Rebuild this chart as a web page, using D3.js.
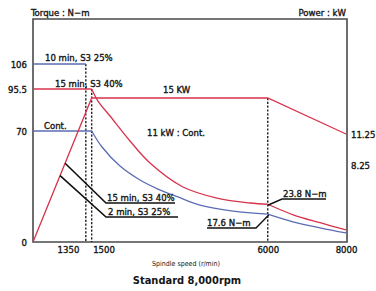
<!DOCTYPE html>
<html><head><meta charset="utf-8">
<script src="https://cdn.jsdelivr.net/npm/d3@7"></script>
<style>
html,body{margin:0;padding:0;background:#fff;}
svg{display:block;}
text{font-family:"Liberation Sans Narrow","DejaVu Sans Condensed",sans-serif;fill:#151515;}
.lbl{stroke:#151515;stroke-width:0.35px;}
</style></head>
<body><div id="chart"></div>
<script>
// ---- data ----
const speedTicks = [1350, 1500, 6000, 8000];
const torqueTicks = [0, 70, 95.5, 106];
const powerTicks = [11.25, 8.25];

const powerRpm = [0, 1500, 6000, 8000];
const powerKw  = [0, 15, 15, 11.25];

const s3ShortRpm = [0, 1350];
const s3ShortNm  = [106, 106];

const s3FlatRpm = [0, 1500];
const s3FlatNm  = [95.5, 95.5];
const s3CurveRpm = [1500, 1661, 1968, 2479, 2990, 3834, 4703, 5546, 6000];
const s3CurveNm  = [95.5, 88.2, 79.1, 63.7, 49.8, 34.7, 27.7, 24.6, 23.8];
const s3TailRpm = [6000, 6667, 7359, 8000];
const s3TailNm  = [23.8, 17.0, 12.0, 7.6];

const contFlatRpm = [0, 1500];
const contFlatNm  = [70, 70];
const contCurveRpm = [1500, 1764, 2224, 2735, 3195, 3706, 4268, 5112, 6000];
const contCurveNm  = [70, 59.9, 47.9, 39.1, 33.4, 28.4, 23.3, 19.5, 17.6];
const contTailRpm = [6000, 6667, 7359, 8000];
const contTailNm  = [17.6, 12.6, 8.8, 5.7];

const dashedRpm = [1350, 1500, 6000];
const leaderRpm = [820, 692];

const RED = "#d8334c", BLUE = "#5a6cb3";

// ---- layout ----
const W = 376, H = 291;
const svg = d3.select("#chart").append("svg").attr("width", W).attr("height", H);

const x = d3.scaleLinear().domain([0, 8000]).range([33, 346]);
const yT = d3.scaleLinear().domain([0, 70, 95.5, 106]).range([242, 131, 89, 64]);
const yP = d3.scaleLinear().domain([0, 15]).range([242, 98]);
const frameTop = 19;

// frame
svg.append("path")
  .attr("d", `M${x(0)},${frameTop}H${x(8000)+1}V${yT(0)}H${x(0)}Z`)
  .attr("fill", "none").attr("stroke", "#4a4a4a").attr("stroke-width", 1.6);

// dashed verticals
const dashTop = {1350: yT(106), 1500: yT(95.5), 6000: yP(15)};
svg.selectAll(".dash").data(dashedRpm).join("line")
  .attr("x1", d => x(d)).attr("x2", d => x(d))
  .attr("y1", d => dashTop[d]).attr("y2", yT(0))
  .attr("stroke", "#222").attr("stroke-width", 1.4).attr("stroke-dasharray", "2.2,1.6");

const lineT = (rpm, nm, curve) => d3.line().x(i => x(rpm[i])).y(i => yT(nm[i])).curve(curve || d3.curveLinear)(d3.range(rpm.length));
const smooth = d3.curveCatmullRom.alpha(0.5);

function draw(d, color) {
  svg.append("path").attr("d", d).attr("fill", "none").attr("stroke", color).attr("stroke-width", 1.3);
}
// blue torque
draw(lineT(s3ShortRpm, s3ShortNm), BLUE);
draw(lineT(contFlatRpm, contFlatNm), BLUE);
draw(lineT(contCurveRpm, contCurveNm, smooth), BLUE);
draw(lineT(contTailRpm, contTailNm, smooth), BLUE);
// red torque
draw(lineT(s3FlatRpm, s3FlatNm), RED);
draw(lineT(s3CurveRpm, s3CurveNm, smooth), RED);
draw(lineT(s3TailRpm, s3TailNm, smooth), RED);
// power
draw(d3.line().x(i => x(powerRpm[i])).y(i => yP(powerKw[i]))(d3.range(powerRpm.length)), RED);

// axes
const fs = "9.5px";
const ax = svg.append("g").attr("transform", `translate(0,${yT(0)})`)
  .call(d3.axisBottom(x).tickValues(speedTicks).tickSize(0).tickPadding(4).tickFormat(d3.format("d")));
ax.select(".domain").remove();
ax.selectAll("text").attr("class", "lbl").attr("font-size", fs).attr("fill", "#151515").attr("font-family", null)
  .attr("text-anchor", d => d === 1350 ? "end" : d === 1500 ? "start" : "middle")
  .attr("dx", d => d === 1350 ? -7 : d === 1500 ? 1 : 0);

const ay = svg.append("g").attr("transform", `translate(${x(0)},0)`)
  .call(d3.axisLeft(yT).tickValues(torqueTicks).tickSize(0).tickPadding(6).tickFormat(d => d));
ay.select(".domain").remove();
ay.selectAll("text").attr("class", "lbl").attr("font-size", fs).attr("fill", "#151515").attr("font-family", null);

const ap = svg.append("g").attr("transform", `translate(${x(8000)+1},0)`)
  .call(d3.axisRight(yP).tickValues(powerTicks).tickSize(0).tickPadding(4).tickFormat(d => d));
ap.select(".domain").remove();
ap.selectAll("text").attr("class", "lbl").attr("font-size", fs).attr("fill", "#151515").attr("font-family", null)
  .attr("dy", d => d === 8.25 ? "0.55em" : "0.32em");

// titles
function txt(s, tx, ty, size, opts = {}) {
  return svg.append("text").attr("x", tx).attr("y", ty).attr("font-size", size)
    .attr("class", opts.plain ? null : "lbl")
    .attr("text-anchor", opts.anchor || "start").attr("font-weight", opts.weight || "normal")
    .attr("fill", opts.fill || "#151515").text(s);
}
txt("Torque : N\u2212m", 31, 16, "9.5px");
txt("Power : kW", 346, 16, "9.5px", {anchor: "end"});
txt("10 min, S3 25%", 45, 61, "9.5px");
txt("15 min, S3 40%", 55, 87, "9.5px");
txt("Cont.", 44, 129, "9.5px");
txt("15 KW", 163, 93, "9.5px");
txt("11 kW : Cont.", 147, 136, "9.5px");
txt("Spindle speed (r/min)", 186, 266, "7px", {anchor: "middle", fill: "#8a8a8a", plain: true});
txt("Standard 8,000rpm", 187, 284, "11px", {anchor: "middle", weight: "bold", plain: true});

// leader annotations for S3 curves
const pInterp = r => d3.scaleLinear().domain(powerRpm).range(powerKw)(r);
const leadY = [203, 217];
const leadEnd = [175, 178];
leaderRpm.forEach((r, i) => {
  svg.append("path")
    .attr("d", `M${x(r)},${yP(pInterp(r))}L106,${leadY[i]}H${leadEnd[i]}`)
    .attr("fill", "none").attr("stroke", "#111").attr("stroke-width", 1.6);
});
txt("15 min, S3 40%", 107, 201, "9.5px");
txt("2 min, S3 25%", 108, 215, "9.5px");

// torque value callouts
svg.append("path").attr("d", `M${x(6000)},${yT(23.8)+1}L282,199H326`)
  .attr("fill", "none").attr("stroke", "#111").attr("stroke-width", 1.4);
txt("23.8 N\u2212m", 283, 197, "9.5px");
svg.append("path").attr("d", `M${x(6000)+1},${yT(17.6)+1}L256,228H207`)
  .attr("fill", "none").attr("stroke", "#111").attr("stroke-width", 1.4);
txt("17.6 N\u2212m", 207, 226, "9.5px");
</script></body></html>
